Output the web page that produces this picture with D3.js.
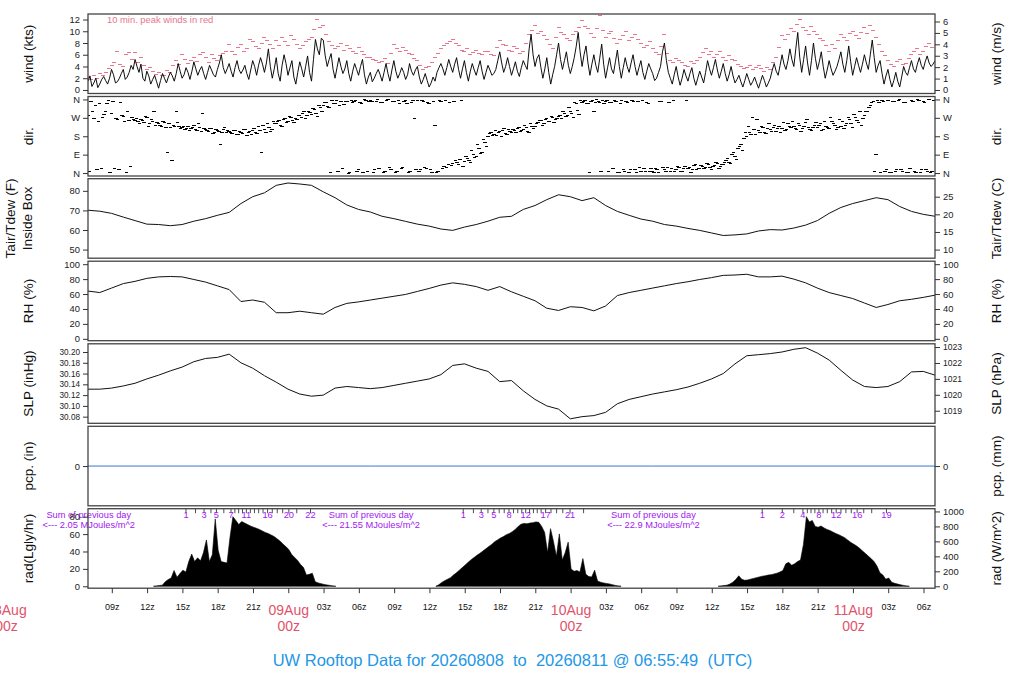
<!DOCTYPE html>
<html><head><meta charset="utf-8">
<script src="https://cdn.jsdelivr.net/npm/d3@7"></script>
<style>body{margin:0;background:#fff} svg{display:block} text{font-family:"Liberation Sans",Arial,Helvetica,sans-serif}</style>
</head><body><svg id="c" width="1024" height="700"></svg>
<script>
// ---------------- DATA ----------------
const startTime = "2026-08-08T06:56:00Z";
const endTime   = "2026-08-11T06:56:00Z";
const titleText = "UW Rooftop Data for 20260808  to  20260811 @ 06:55:49  (UTC)";

// wind speed (kts), every 10 min from startTime
const windKts = [
1.5,2.4,0.6,1.2,2.0,0.4,1.0,1.8,2.3,1.6,1.0,2.0,3.5,2.6,1.2,1.4,2.0,2.8,3.5,1.8,2.2,3.0,4.2,3.5,5.2,4.0,3.0,4.4,2.0,1.5,3.2,2.4,1.0,1.8,2.5,1.4,0.3,1.6,2.8,2.0,
1.2,2.2,3.0,2.4,1.5,2.8,4.5,3.2,2.0,2.6,3.8,3.0,1.8,3.2,4.8,3.6,2.5,3.4,4.0,2.8,1.8,3.0,4.2,3.4,2.6,2.2,3.5,4.6,6.0,3.8,2.8,3.6,4.5,3.2,2.2,3.8,5.0,3.5,2.8,3.4,
4.2,2.8,1.8,3.4,5.0,4.0,2.5,4.2,5.5,4.4,3.0,4.6,7.0,4.0,2.0,3.6,5.5,2.8,1.5,4.2,6.0,4.5,2.5,3.8,5.0,2.2,1.0,3.0,4.8,3.6,2.2,4.0,5.8,3.0,1.5,5.2,8.6,7.0,6.0,8.8,
8.5,5.8,4.0,5.2,6.2,3.5,2.0,3.8,5.5,4.0,2.8,3.6,5.0,2.8,1.5,3.2,4.5,3.5,2.5,4.0,5.2,2.6,1.0,2.2,3.0,1.4,2.0,2.8,3.5,2.6,1.5,3.0,4.5,2.8,1.5,3.4,5.0,3.2,2.0,2.8,
3.8,3.0,1.8,2.6,4.5,3.2,2.5,3.4,4.0,2.2,1.0,1.8,2.8,1.6,0.5,1.2,2.2,1.5,3.0,3.8,4.5,3.6,2.5,3.8,5.2,4.0,3.0,4.4,5.5,3.5,2.0,3.6,5.0,3.0,1.5,3.2,4.5,3.4,2.5,3.8,
5.0,3.2,1.8,3.0,4.2,3.4,2.5,2.8,3.5,5.0,6.5,4.6,3.0,4.0,5.5,4.0,2.5,3.6,4.8,3.2,2.3,3.8,5.0,4.2,3.5,7.0,9.5,6.0,4.0,5.4,6.0,3.8,2.0,3.6,5.5,3.0,1.0,2.6,4.0,6.0,
8.0,5.2,3.5,5.0,6.5,4.2,2.8,4.0,5.5,7.4,9.8,6.5,4.0,6.0,7.5,4.6,2.5,4.4,6.0,4.2,3.0,5.4,7.8,4.4,2.0,3.8,5.5,3.6,2.8,4.8,6.8,4.0,2.0,3.8,5.5,4.0,3.0,4.6,6.0,4.0,
2.5,3.8,5.0,3.0,1.8,3.2,4.5,3.6,2.8,1.6,2.0,3.0,4.0,6.5,8.0,5.0,3.0,2.0,1.0,2.6,4.0,2.2,0.8,2.0,3.5,2.4,1.5,2.8,3.8,2.0,0.8,2.0,3.2,2.2,1.2,3.0,5.0,3.6,2.5,3.8,
5.2,3.4,2.0,3.2,4.5,2.8,1.5,2.6,4.0,2.4,1.2,1.8,2.5,1.4,0.5,1.6,2.8,1.8,0.8,1.4,2.2,1.2,0.3,1.4,2.5,1.6,0.5,1.2,2.0,3.4,4.5,3.2,2.5,4.2,6.0,4.4,3.5,5.0,7.0,5.2,
4.0,7.0,9.8,5.6,3.0,5.2,7.5,4.6,2.5,5.0,8.0,5.4,3.5,4.8,6.5,4.0,2.0,3.4,5.0,3.6,2.5,3.2,4.0,5.2,6.5,4.4,3.0,5.0,7.5,4.8,2.5,4.0,5.5,4.2,3.0,4.4,6.0,4.6,3.5,6.0,
8.5,5.5,3.0,4.2,5.0,2.8,1.0,2.4,3.5,1.8,0.5,1.6,3.0,1.5,0.5,2.2,4.0,3.0,2.5,3.8,5.0,3.6,3.0,4.4,5.5,4.2,3.5,4.8,5.8,4.6,4.0,4.4,5.0];

// 10-min peak winds (kts), every 15 min from startTime
const peakKts = [
2.2,1.8,2.5,2.0,2.8,2.4,3.0,3.6,4.2,4.6,6.6,4.4,4.0,6.0,6.4,5.2,6.4,4.6,5.5,4.2,3.5,3.8,3.2,2.6,
3.0,2.4,2.5,3.4,3.0,4.2,5.0,4.4,6.0,5.2,4.5,5.0,5.5,4.8,6.0,6.4,5.5,4.6,6.0,5.4,5.0,5.8,6.2,6.6,
7.7,6.5,6.0,7.2,7.8,6.6,7.0,8.6,8.2,7.4,7.0,8.0,9.0,8.4,7.8,7.0,8.5,7.6,9.0,8.2,7.5,9.2,8.6,7.8,
7.0,7.6,8.2,8.6,9.0,10.3,12.0,10.6,11.0,9.4,8.2,7.6,7.0,7.4,8.0,6.8,7.5,7.0,6.5,6.2,7.2,6.6,6.0,5.6,
5.5,5.2,5.0,4.6,4.8,5.4,4.5,6.2,7.7,7.0,6.5,7.2,6.8,6.2,6.0,5.4,5.0,4.2,3.5,3.8,4.0,4.6,5.5,6.2,
7.0,7.6,8.0,8.2,8.6,8.0,7.5,6.8,6.5,7.0,6.0,6.4,6.8,6.2,6.0,6.6,6.5,6.0,5.8,7.2,8.4,7.8,7.5,6.8,
6.5,7.4,7.0,6.2,6.5,8.0,9.4,10.2,10.9,9.6,10.0,9.2,8.6,7.8,7.0,9.0,10.7,9.8,9.5,8.8,8.5,9.4,10.0,10.6,
11.8,10.8,10.5,9.6,9.0,10.4,12.6,10.2,9.0,9.6,10.0,8.8,8.0,8.6,9.2,10.0,8.5,9.0,9.5,8.6,8.0,7.2,7.5,8.2,
7.0,6.4,6.0,7.4,9.4,6.2,5.0,4.6,5.4,5.0,4.6,4.2,4.0,4.8,4.5,5.0,5.5,6.4,7.0,6.0,6.5,5.6,6.0,6.6,
5.5,5.0,5.8,5.2,5.0,4.4,4.0,3.6,3.8,4.2,3.5,3.9,4.2,3.6,3.2,3.8,3.5,4.6,5.5,7.2,9.3,8.6,9.5,10.5,
9.9,11.2,12.0,10.6,10.2,9.4,10.8,10.0,9.5,8.8,8.5,7.6,6.5,7.8,7.0,8.4,9.5,9.0,8.5,9.6,10.0,9.2,8.8,9.8,
10.7,9.6,10.9,10.2,9.0,7.8,6.5,5.8,5.0,4.4,4.0,4.8,5.2,4.4,4.5,5.4,6.0,6.6,7.0,6.0,6.5,7.4,8.0,7.2];

// wind direction (deg): dirDeg every 15 min from startTime, dirDegMid every 15 min from startTime + 7.5 min
const dirDeg = [280,350,265,15,340,270,300,355, 290,20,260,345,275,5,255,270,
255,250,260,245,270,240,250,235, 240,230,245,100,225,235,300,230,
225,215,230,220,235,210,225,290, 215,205,220,200,210,140,215,200,
205,195,210,190,200,215,185,205, 210,200,230,100,215,240,205,250,
240,255,230,265,250,270,245,260, 280,290,265,300,285,310,275,320,
330,345,320,355,340,10,350,335, 350,5,345,355,15,340,360,10,
355,5,350,20,345,10,358,15, 350,10,340,25,355,5,345,265,
355,15,350,20,340,5,235,10, 350,30,25,345,45,60,40,355,
55,70,50,90,80,120,100,150, 180,200,190,185,205,210,195,215,
200,210,220,205,215,225,200,230, 230,245,255,240,265,250,270,260,
275,265,290,280,300,270,340,285, 345,355,340,350,300,358,345,355,
350,10,345,355,5,340,15,352, 5,355,15,350,10,20,345,8,
10,20,5,350,15,25,8,355, 15,25,10,30,20,5,35,15,
20,30,25,40,15,35,45,30, 40,60,50,90,80,120,140,170,
180,200,270,190,210,230,200,220, 215,225,205,230,220,210,240,225,
230,215,235,220,245,225,210,235, 225,240,215,230,220,250,235,225,
230,220,240,260,225,270,245,235, 280,300,330,350,90,345,355,10,
355,5,350,15,358,10,345,5, 355,10,360,5,350,15,358,8];
const dirDegMid = [10,300,330,250,20,285,340,5, 350,265,15,280,250,300,30,260,
265,240,255,275,230,260,300,245, 235,250,225,240,60,230,245,220,
230,220,210,225,215,240,205,220, 210,220,195,215,205,200,225,210,
200,210,190,205,195,215,200,190, 220,195,210,235,200,225,215,240,
250,235,260,245,275,255,265,280, 270,300,280,295,315,290,330,300,
345,325,5,340,355,330,20,350, 0,355,350,10,345,5,355,350,
350,15,358,345,5,355,25,350, 5,355,20,350,340,10,355,15,
10,355,25,345,15,350,5,355, 20,355,40,35,350,50,65,30,
80,60,110,75,140,95,165,130, 195,185,210,200,180,220,190,205,
215,200,225,210,235,205,240,220, 240,255,235,260,250,275,245,265,
280,300,275,320,290,345,305,355, 350,340,5,355,345,350,10,340,
355,345,20,350,5,355,10,345, 15,350,5,25,355,10,340,20,
5,15,350,25,10,345,20,10, 30,10,20,355,25,15,40,20,
35,20,45,25,30,50,20,40, 50,70,45,100,65,130,110,200,
230,190,215,260,200,225,195,240, 205,235,220,200,245,215,230,250,
220,240,205,230,260,215,225,245, 235,210,250,225,270,240,215,260,
250,235,270,240,285,255,300,265, 300,320,345,10,355,5,350,15,
5,350,10,355,15,345,5,20, 350,5,355,15,345,10,5,355];
const dirTickValues = [0,90,180,270,360];
const dirTickLabels = ["N","E","S","W","N"];

// hourly from startTime
const tempF = [70.1,69.6,68.5,66.6,64.8,63,62.8,62.2,62.8,64.5,65.8,67.5,69,73.5,77,79,82.8,84,83.5,82.8,
79.5,76.5,72.8,70.5,69.2,67,65.8,64.4,63,62,60.5,59.8,61.5,62.8,64.5,66.5,67,70.5,72.5,75.5,
78,77,75,76.5,72.5,69.5,67.5,65.6,64.5,62.8,62,60.8,59.8,58.5,57.2,57.5,58,59.5,60.2,60,
61,62.5,64.8,68.5,71.5,73.5,75,76.5,75.5,72,69.5,68,67];
const rhPct = [64,62,68,74,77,81,83,83.5,83,79.5,76,71,66,50,52,49,35,35,37,35,
33,42,47.5,49.5,52,54.5,57,59.5,63.5,67.5,72,75,73,70,65,70,63,57,51,41,
38,43,42,37.5,44,58,62,65,68,71,74,76.5,79.5,82,85,85.5,86.5,83,83,84,
80,75,68,62,58,54,48,42,46,51,53,55.5,58.5];
const slpInHg = [30.131,30.131,30.133,30.137,30.142,30.150,30.157,30.165,30.172,30.182,
30.188,30.190,30.196,30.180,30.170,30.156,30.144,30.131,30.122,30.118,
30.120,30.133,30.136,30.134,30.132,30.134,30.138,30.142,30.146,30.150,
30.158,30.175,30.178,30.170,30.164,30.145,30.147,30.128,30.112,30.100,
30.094,30.076,30.080,30.082,30.088,30.104,30.112,30.117,30.122,30.126,
30.130,30.135,30.142,30.150,30.160,30.178,30.193,30.195,30.197,30.200,
30.205,30.208,30.198,30.185,30.166,30.148,30.136,30.134,30.136,30.145,
30.163,30.164,30.157];
// precipitation (in), every 24 h from startTime
const pcpIn = [0,0,0,0];

// solar radiation (W/m^2), every 15 min from each start
const radDayStarts = ["2026-08-08T12:30:00Z","2026-08-09T12:30:00Z","2026-08-10T12:30:00Z"];
const radDay1 = [0,5,10,15,60,90,110,210,120,170,215,190,330,430,330,380,340,
450,620,330,420,900,480,330,320,310,650,930,880,825,865,845,825,805,790,775,760,740,720,705,685,665,635,605,565,530,
490,425,385,345,290,250,150,160,175,60,45,35,25,18,12,5,0];
const radDay2 = [0,20,50,75,95,115,150,180,215,250,285,320,355,385,415,440,470,500,530,560,
595,620,645,665,690,705,730,760,800,830,840,835,845,850,860,855,800,720,450,770,
600,400,700,350,450,590,230,200,210,190,370,160,130,125,215,70,55,45,38,32,22,12,5,0];
const radDay3 = [0,5,10,15,30,55,90,140,95,80,85,95,105,115,125,135,140,150,155,165,
175,190,210,300,320,280,300,330,350,560,930,860,880,800,790,805,780,760,745,725,
705,690,670,650,620,590,565,540,510,475,440,405,370,330,270,180,150,95,110,55,
40,30,20,12,5,0];
const prevDayLabelTimes = ["2026-08-08T07:00:00Z","2026-08-09T07:00:00Z","2026-08-10T07:00:00Z"];
const prevDaySums = ["2.05","21.55","22.9"];

// ---------------- CHART ----------------
const FONT = '"Liberation Sans",Arial,Helvetica,sans-serif';
const RED = "#DF536B", PINK = "#E8768C", BLUE = "#2297E6", PURPLE = "#A020F0";
const svg = d3.select("#c");
const X0 = 88, X1 = 935;
const t0 = new Date(startTime), t1 = new Date(endTime);
const x = d3.scaleUtc([t0, t1], [X0, X1]);
const tops = [14, 96.5, 178.7, 261.2, 343.8, 426.3, 508.7];
const PH = 79.5;
const ys = (p, dom) => d3.scaleLinear(dom, [tops[p] + PH, tops[p]]);
const tAt = (startMs, stepMin, i) => new Date(startMs + i * stepMin * 60000);

const KT_PER_MS = 1.94384, HPA_PER_INHG = 33.8639, LGLY_PER_W = 3600 / 41840;

const yWind = ys(0, [-0.6, 12.94]);
const yWindMs = ys(0, [-0.6 / KT_PER_MS, 12.94 / KT_PER_MS]);
const yDir = ys(1, [-14.4, 374.4]);
const yTemp = ys(2, [45.6, 86.2]);
const yTempC = ys(2, [(45.6 - 32) * 5 / 9, (86.2 - 32) * 5 / 9]);
const yRH = ys(3, [-2.5, 104]);
const ySlp = ys(4, [30.0677, 30.2152]);
const ySlpH = ys(4, [30.0677 * HPA_PER_INHG, 30.2152 * HPA_PER_INHG]);
const yPcp = ys(5, [-1, 1]);
const yRadL = ys(6, [-2.2, 89.2]);
const yRadW = ys(6, [-2.2 / LGLY_PER_W, 89.2 / LGLY_PER_W]);

const defs = svg.append("defs");
tops.forEach((tp, p) => {
  defs.append("clipPath").attr("id", "clip" + p).append("rect")
    .attr("x", X0).attr("y", tp).attr("width", X1 - X0).attr("height", PH);
});
const panel = p => svg.append("g").attr("clip-path", `url(#clip${p})`);

// wind
const gW = panel(0);
gW.selectAll("line.pk").data(peakKts).join("line").attr("class", "pk")
  .attr("x1", (d, i) => x(tAt(+t0, 15, i)) - 2).attr("x2", (d, i) => x(tAt(+t0, 15, i)) + 2)
  .attr("y1", d => yWind(d)).attr("y2", d => yWind(d))
  .attr("stroke", PINK).attr("stroke-width", 1).attr("shape-rendering", "crispEdges");
gW.append("path").datum(windKts)
  .attr("d", d3.line().x((d, i) => x(tAt(+t0, 10, i))).y(d => yWind(d)))
  .attr("fill", "none").attr("stroke", "#000").attr("stroke-width", 0.95);
svg.append("text").attr("x", 107).attr("y", 23.3).attr("font-size", 9.4).attr("fill", PINK)
  .text("10 min. peak winds in red");

// direction
const gD = panel(1);
function dirMarks(arr, offsetMin) {
  gD.append("g").selectAll("line").data(arr).join("line")
    .attr("x1", (d, i) => x(tAt(+t0 + offsetMin * 60000, 15, i)) - 1.7)
    .attr("x2", (d, i) => x(tAt(+t0 + offsetMin * 60000, 15, i)) + 1.7)
    .attr("y1", d => yDir(d)).attr("y2", d => yDir(d))
    .attr("stroke", "#000").attr("stroke-width", 1).attr("shape-rendering", "crispEdges");
}
dirMarks(dirDeg, 0);
dirMarks(dirDegMid, 7.5);

// hourly lines
function hourly(p, arr, yscale, color) {
  panel(p).append("path").datum(arr)
    .attr("d", d3.line().x((d, i) => x(tAt(+t0, 60, i))).y(d => yscale(d)))
    .attr("fill", "none").attr("stroke", color).attr("stroke-width", 1);
}
hourly(2, tempF, yTemp, "#111");
hourly(3, rhPct, yRH, "#111");
hourly(4, slpInHg, ySlp, "#111");
panel(5).append("path").datum(pcpIn)
  .attr("d", d3.line().x((d, i) => x(tAt(+t0, 1440, i))).y(d => yPcp(d)))
  .attr("fill", "none").attr("stroke", "#3478D4").attr("stroke-width", 1);

// radiation
const gR = panel(6);
const radDays = [radDay1, radDay2, radDay3];
radDays.forEach((vals, d) => {
  const s = +new Date(radDayStarts[d]);
  gR.append("path").datum(vals)
    .attr("d", d3.area().x((v, i) => x(tAt(s, 15, i))).y0(yRadW(0)).y1(v => yRadW(v)))
    .attr("fill", "#000").attr("stroke", "#000").attr("stroke-width", 0.6);
});
// cumulative MJ/m^2 markers, integrated from the radiation series
const gM = svg.append("g");
radDays.forEach((vals, d) => {
  const s = +new Date(radDayStarts[d]);
  let cum = 0, next = 1, lastRight = -Infinity;
  for (let k = 0; k < vals.length - 1; k++) {
    const add = (vals[k] + vals[k + 1]) / 2 * 900 / 1e6;
    while (add > 0 && cum + add >= next) {
      const frac = (next - cum) / add;
      const xp = x(new Date(s + (k + frac) * 15 * 60000));
      gM.append("line").attr("x1", xp).attr("x2", xp).attr("y1", tops[6]).attr("y2", tops[6] + 4.5)
        .attr("stroke", "#222").attr("stroke-width", 0.8);
      const t = gM.append("text").attr("x", xp).attr("y", tops[6] + 9.5).attr("text-anchor", "middle")
        .attr("font-size", 9.3).attr("fill", PURPLE).text(next);
      const w = t.node().getComputedTextLength();
      if (xp - w / 2 < lastRight + 7) t.remove(); else lastRight = xp + w / 2;
      next++;
    }
    cum += add;
  }
});
prevDayLabelTimes.forEach((ts, d) => {
  const xc = x(new Date(ts));
  svg.append("text").attr("x", xc).attr("y", 518.3).attr("text-anchor", "middle")
    .attr("font-size", 9.3).attr("fill", PURPLE).text("Sum of previous day");
  svg.append("text").attr("x", xc).attr("y", 528.3).attr("text-anchor", "middle")
    .attr("font-size", 9.3).attr("fill", PURPLE).style("white-space", "pre")
    .text("<--- " + prevDaySums[d] + " MJoules/m^2");
});

// boxes
tops.forEach(tp => {
  svg.append("rect").attr("x", X0).attr("y", tp).attr("width", X1 - X0).attr("height", PH)
    .attr("fill", "none").attr("stroke", "#444").attr("stroke-width", 1.3);
});

// axes
function axis(scale, side, ticks, fmt, fs) {
  const a = (side === "left" ? d3.axisLeft(scale) : d3.axisRight(scale))
    .tickValues(ticks).tickSize(5).tickPadding(3).tickFormat(fmt);
  const g = svg.append("g").attr("transform", `translate(${side === "left" ? X0 : X1},0)`).call(a);
  g.attr("font-family", FONT).attr("font-size", fs);
  g.select(".domain").remove();
  g.selectAll("line").attr("stroke", "#333");
  g.selectAll("text").attr("fill", "#222");
}
const f0 = d3.format("d");
axis(yWind, "left", [0, 2, 4, 6, 8, 10, 12], f0, 9.4);
axis(yWindMs, "right", [0, 1, 2, 3, 4, 5, 6], f0, 9.4);
axis(yDir, "left", dirTickValues, (d, i) => dirTickLabels[i], 9.4);
axis(yDir, "right", dirTickValues, (d, i) => dirTickLabels[i], 9.4);
axis(yTemp, "left", [50, 60, 70, 80], f0, 9.4);
axis(yTempC, "right", [10, 15, 20, 25], f0, 9.4);
axis(yRH, "left", [0, 20, 40, 60, 80, 100], f0, 9.4);
axis(yRH, "right", [0, 20, 40, 60, 80, 100], f0, 9.4);
axis(ySlp, "left", [30.08, 30.10, 30.12, 30.14, 30.16, 30.18, 30.20], d3.format(".2f"), 8.2);
axis(ySlpH, "right", [1019, 1020, 1021, 1022, 1023], f0, 8.6);
axis(yPcp, "left", [0], f0, 9.4);
axis(yPcp, "right", [0], f0, 9.4);
axis(yRadL, "left", [0, 20, 40, 60, 80], f0, 9.4);
axis(yRadW, "right", [0, 200, 400, 600, 800, 1000], f0, 9.4);

// axis titles
function vtitle(xc, yc, txt, fs) {
  svg.append("text").attr("transform", `translate(${xc},${yc}) rotate(-90)`)
    .attr("text-anchor", "middle").attr("dy", "0.35em").attr("font-size", fs).attr("fill", "#111").text(txt);
}
const mid = p => tops[p] + PH / 2;
const leftTitles = ["wind (kts)", "dir.", null, "RH (%)", "SLP (inHg)", "pcp. (in)", "rad(Lgly/hr)"];
const rightTitles = ["wind (m/s)", "dir.", "Tair/Tdew (C)", "RH (%)", "SLP (hPa)", "pcp. (mm)", "rad (W/m^2)"];
leftTitles.forEach((t, p) => { if (t) vtitle(28, mid(p), t, 13.6); });
vtitle(10, mid(2), "Tair/Tdew (F)", 13.6);
vtitle(27, mid(2), "Inside Box", 13.6);
rightTitles.forEach((t, p) => vtitle(996.5, mid(p), t, 13.6));

// time axis
const yb = tops[6] + PH;
const hours = d3.utcHour.every(3).range(t0, t1);
const gx = svg.append("g");
hours.forEach(h => {
  const xp = x(h);
  gx.append("line").attr("x1", xp).attr("x2", xp).attr("y1", yb).attr("y2", yb + 5).attr("stroke", "#333");
  if (h.getUTCHours() !== 0)
    gx.append("text").attr("x", xp).attr("y", 609.5).attr("text-anchor", "middle")
      .attr("font-size", 9).attr("fill", "#111").text(d3.utcFormat("%Hz")(h));
});
d3.utcDay.range(d3.utcDay.floor(t0), t1).forEach(dd => {
  const xp = x(dd);
  gx.append("text").attr("x", xp).attr("y", 615).attr("text-anchor", "middle")
    .attr("font-size", 14).attr("fill", RED).text(d3.utcFormat("%d%b")(dd));
  gx.append("text").attr("x", xp).attr("y", 631).attr("text-anchor", "middle")
    .attr("font-size", 14).attr("fill", RED).text("00z");
});

// title
svg.append("text").attr("x", 512.5).attr("y", 665.5).attr("text-anchor", "middle")
  .attr("font-size", 16.5).attr("fill", BLUE).style("white-space", "pre").text(titleText);
</script></body></html>
